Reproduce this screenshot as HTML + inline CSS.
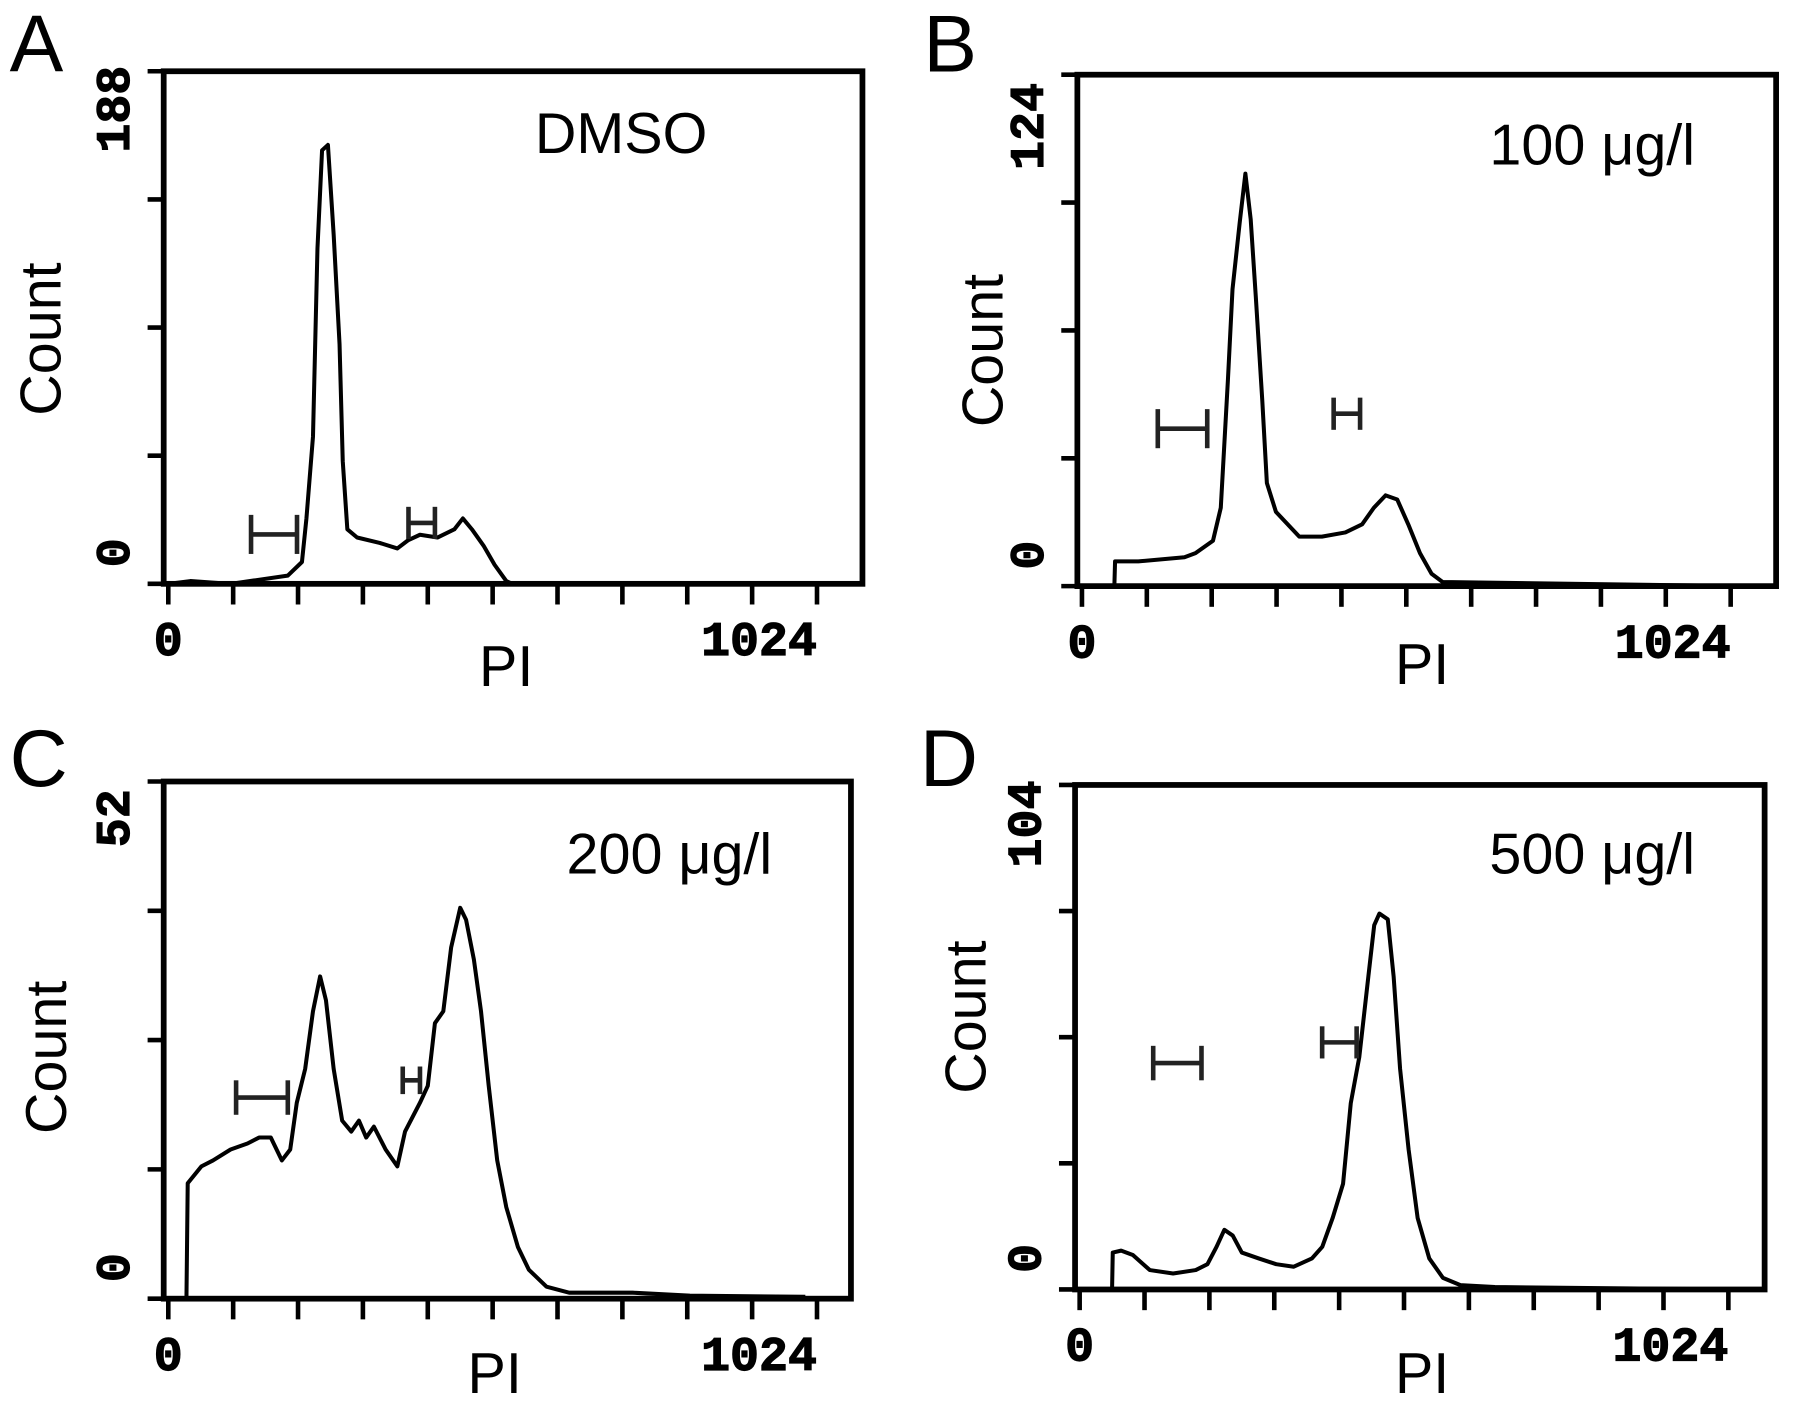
<!DOCTYPE html>
<html><head><meta charset="utf-8"><style>
html,body{margin:0;padding:0;background:#fff;}
svg{display:block;}
.lbl{font-family:"Liberation Sans",sans-serif;fill:#000;}
.tick{font-family:"Liberation Mono",monospace;font-weight:bold;fill:#000;stroke:#000;stroke-width:1;}
</style></head><body>
<svg id="fig" width="1795" height="1409" viewBox="0 0 1561 1226" xmlns="http://www.w3.org/2000/svg"></svg>
<script>
// Panel A (DMSO)
const chA=[0,34,96,184,206,213,223,230,237,246,255,264,269,276,291,326,353,370,388,415,441,454,468,486,503,521,530,1024];
const cntA=[0,1,0,3,8,24,54,123,159,161,128,88,45,20,17,15,13,16,18,17,20,24,20,14,7,1,0,0];
// Panel B (100 ug/l)
const chB=[0,50,51,87,158,175,202,214,225,232,243,252,260,268,278,285,299,335,370,406,432,450,468,486,503,521,539,556,1024];
const cntB=[0,0,6,6,7,8,11,19,50,72,88,100,89,70,45,25,18,12,12,13,15,19,22,21,15,8,3,1,0];
// Panel C (200 ug/l)
const chC=[0,28,30,51,69,96,122,140,158,175,188,198,211,223,234,243,255,268,282,294,305,317,335,353,365,388,400,411,424,436,450,459,471,482,494,507,521,539,556,583,618,716,804,982];
const cntC=[0,0,11.6,13.3,13.9,15,15.6,16.2,16.2,13.9,15,19.7,23.1,28.9,32.4,30,23.1,17.9,16.8,17.9,16.2,17.3,15,13.3,16.8,19.7,21.4,27.7,28.9,35.3,39.3,38.1,34.1,28.9,21.4,13.9,9.2,5.2,2.9,1.2,0.6,0.6,0.3,0.2];
// Panel D (500 ug/l)
const chD=[0,50,51,64,82,108,144,179,197,211,223,236,250,276,303,330,358,374,390,406,418,431,445,454,462,475,484,494,507,521,539,560,587,640,1024];
const cntD=[0,0,7.6,8,7.1,4,3.3,4,5.2,8.8,12.3,11.1,7.6,6.4,5.2,4.7,6.4,8.8,14.7,21.8,38.4,47.9,64.5,75.1,77.5,76.3,64.5,45.5,28.9,14.7,6.4,2.4,0.9,0.5,0];
const yMaxLabels=["188","124","52","104"];
const yMaxVals=[188,124,52,104];
const conds=["DMSO","100 μg/l","200 μg/l","500 μg/l"];
const letters=["A","B","C","D"];
const xTickVals=[0,100,200,300,400,500,600,700,800,900,1000];

const NS="http://www.w3.org/2000/svg";
const svg=document.getElementById('fig');
function mk(tag,attrs,parent){const e=document.createElementNS(NS,tag);for(const k in attrs)e.setAttribute(k,attrs[k]);(parent||svg).appendChild(e);return e;}

const panels=[
 {L:142,T:62,R:750,B:508,ch:chA,cnt:cntA,count:[35,295],ymaxY:95,pi:[440,597],cond:[540,133],let:[8,62],
  gates:[[218,258,465,17],[355,378,455,14]]},
 {L:937,T:65,R:1545,B:510,ch:chB,cnt:cntB,count:[855,305],ymaxY:110,pi:[1237,595],cond:[1385,143],let:[803,62],
  gates:[[1007,1050,373,17],[1160,1183,360,14]]},
 {L:142,T:680,R:740,B:1130,ch:chC,cnt:cntC,count:[40,920],ymaxY:712,pi:[430,1212],cond:[582,760],let:[8,684],
  gates:[[205,250,955,15],[350,365,940,12]]},
 {L:935,T:683,R:1535,B:1122,ch:chD,cnt:cntD,count:[840,885],ymaxY:717,pi:[1237,1212],cond:[1385,760],let:[800,684],
  gates:[[1003,1045,925,15],[1150,1180,907,14]]}
];

panels.forEach((p,i)=>{
  const g=mk('g',{});
  
  
  const x0=p.L+4;
  const xs=v=>x0+v/1024*578;
  const ys=v=>p.B-v/yMaxVals[i]*(p.B-p.T);
  const d=p.ch.map((c,k)=>(k?'L':'M')+xs(c).toFixed(1)+' '+ys(p.cnt[k]).toFixed(1)).join(' ');
  const path=mk('path',{d:d,fill:'none',stroke:'#000','stroke-width':3.5,'stroke-linejoin':'round'},g);
  
  
  const fr=mk('rect',{x:p.L,y:p.T,width:p.R-p.L,height:p.B-p.T,fill:'none',stroke:'#000','stroke-width':5},g);
  
  
  for(let k=0;k<=4;k++){
    const y=p.B-k*(p.B-p.T)/4;
    const t=mk('line',{x1:p.L-14,x2:p.L,y1:y,y2:y,stroke:'#000','stroke-width':4},g);
    
    
  }
  xTickVals.forEach(v=>{
    const x=xs(v);
    const t=mk('line',{x1:x,x2:x,y1:p.B,y2:p.B+18,stroke:'#000','stroke-width':4},g);
    
    
  });
  const xl0=mk('text',{x:xs(0),y:p.B+62,'text-anchor':'middle','font-size':42,class:'tick'},g);
  xl0.textContent='0';
  
  
  const xl1=mk('text',{x:xs(0)+514,y:p.B+62,'text-anchor':'middle','font-size':42,class:'tick'},g);
  xl1.textContent='1024';
  
  
  const yl=mk('text',{x:0,y:0,'text-anchor':'middle','font-size':42,class:'tick',transform:`translate(${p.L-30},${p.ymaxY}) rotate(-90)`},g);
  yl.textContent=yMaxLabels[i];
  
  
  const y0=mk('text',{x:0,y:0,'text-anchor':'middle','font-size':42,class:'tick',transform:`translate(${p.L-30},${p.B-27}) rotate(-90)`},g);
  y0.textContent='0';
  
  
  const ct=mk('text',{x:0,y:0,'text-anchor':'middle','font-size':50,class:'lbl',transform:`translate(${p.count[0]+17},${p.count[1]}) rotate(-90)`},g);
  ct.textContent='Count';
  
  
  const pi=mk('text',{x:p.pi[0],y:p.pi[1],'text-anchor':'middle','font-size':50,class:'lbl'},g);
  pi.textContent='PI';
  
  
  const cd=mk('text',{x:p.cond[0],y:p.cond[1],'text-anchor':'middle','font-size':50,class:'lbl'},g);
  cd.textContent=conds[i];
  
  
  const lt=mk('text',{x:p.let[0],y:p.let[1],'font-size':70,class:'lbl'},g);
  lt.textContent=letters[i];
  
  
  p.gates.forEach(gt=>{
    const gg=mk('g',{stroke:'#222','stroke-width':4,fill:'none'},g);
    
    
    mk('line',{x1:gt[0],x2:gt[1],y1:gt[2],y2:gt[2]},gg);
    mk('line',{x1:gt[0],x2:gt[0],y1:gt[2]-gt[3],y2:gt[2]+gt[3]},gg);
    mk('line',{x1:gt[1],x2:gt[1],y1:gt[2]-gt[3],y2:gt[2]+gt[3]},gg);
  });
});
</script>
</body></html>
